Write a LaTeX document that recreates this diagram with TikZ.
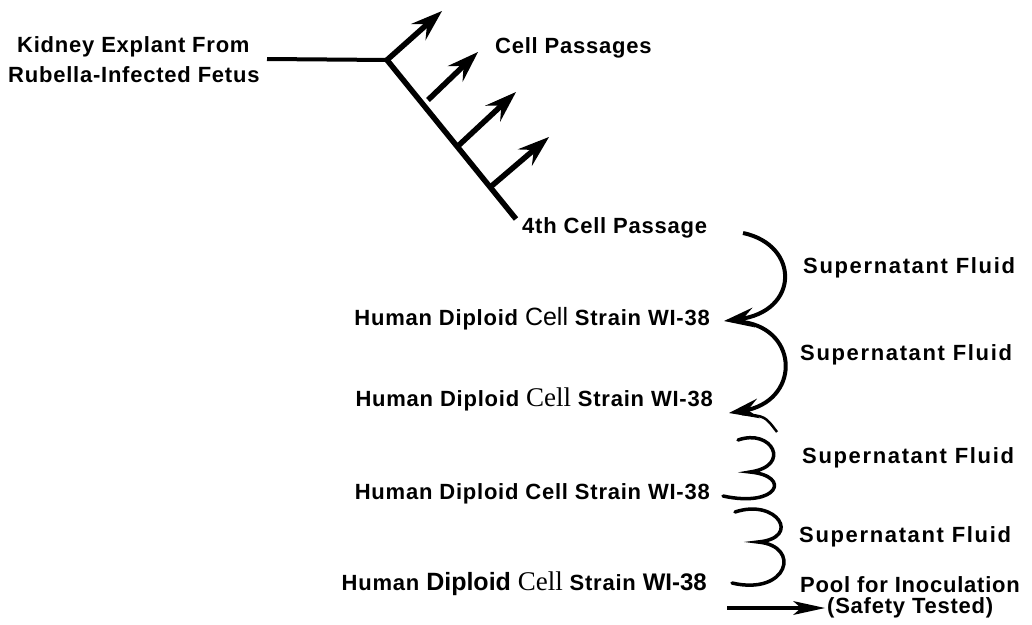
\documentclass[tikz,border=0pt]{standalone}
\usepackage{fontspec}
\setmainfont{Liberation Sans}
\newfontfamily\fa{Liberation Sans}[LetterSpace=3.5]
\newfontfamily\fb{Liberation Sans}[LetterSpace=7.5]
\newfontfamily\fn{Liberation Sans}
\newfontfamily\fs{Liberation Serif}
\usetikzlibrary{calc}
\tikzset{
  lbl/.style={inner sep=0pt, anchor=base west, font=\fa\bfseries\fontsize{22}{24}\selectfont},
  lblb/.style={inner sep=0pt, anchor=base west, font=\fb\bfseries\fontsize{22}{24}\selectfont},
  rowlbl/.style={inner sep=0pt, anchor=base east, font=\fa\bfseries\fontsize{22}{24}\selectfont},
  thickline/.style={line width=5.5pt, line cap=butt},
  passshaft/.style={line width=5.5pt, shorten >=16pt},
  curveshaft/.style={line width=4pt, shorten >=14pt},
  threecurve/.style={line width=3.5pt, line cap=round},
  headfill/.style={fill=black},
}
% arrowhead: #1 tip, #2 point it comes from, #3 length, #4 half width, #5 notch depth
\newcommand\myhead[5]{%
  \fill[headfill] (#1) -- ($(#1)!#3!(#2)!#4!90:(#1)$) -- ($(#1)!#5!(#2)$)
    -- ($(#1)!#3!(#2)!#4!-90:(#1)$) -- cycle;}
\begin{document}
\begin{tikzpicture}[x=1pt,y=-1pt]
\useasboundingbox (0,0) rectangle (1032,624);

% labels
\node[lbl] (kid1) at (17,52) {Kidney Explant From};
\node[lbl] (kid2) at (8,82) {Rubella-Infected Fetus};
\node[lbl] (cp) at (495,53) {Cell Passages};
\node[lbl] (p4) at (522,233) {4th Cell Passage};

\node[rowlbl] (r1) at (710,325) {Human Diploid {\fn\mdseries\fontsize{25}{26}\selectfont Cell} Strain WI-38};
\node[rowlbl] (r2) at (713,406) {Human Diploid {\fs\mdseries\fontsize{27}{28}\selectfont Cell} Strain WI-38};
\node[rowlbl] (r3) at (710,499) {Human Diploid Cell Strain WI-38};
\node[rowlbl] (r4) at (707,590) {Human {\fn\fontsize{25}{26}\selectfont Diploid} {\fs\mdseries\fontsize{27}{28}\selectfont Cell} Strain {\fn\fontsize{24}{26}\selectfont WI-38}};

\node[lblb] (s1) at (803,273) {Supernatant Fluid};
\node[lblb] (s2) at (800,360) {Supernatant Fluid};
\node[lblb] (s3) at (802,463) {Supernatant Fluid};
\node[lblb] (s4) at (799,542) {Supernatant Fluid};
\node[lbl] (pool) at (800,592) {Pool for Inoculation};
\node[lbl] (safe) at (827,613) {(Safety Tested)};

% tree
\coordinate (h0) at (267,59);
\coordinate (J) at (387,60);
\coordinate (E) at (516,219);
\coordinate (t1) at (442,11);
\coordinate (a2) at (428,100);
\coordinate (t2) at (478,52);
\coordinate (a3) at ($(J)!0.545!(E)$);
\coordinate (t3) at (516,92);
\coordinate (a4) at ($(J)!0.80!(E)$);
\coordinate (t4) at (549,137);

\draw[line width=4pt] (h0) -- (J);
\draw[thickline] (J) -- (E);
\draw[passshaft] (J) -- (t1);  \myhead{t1}{J}{32pt}{11pt}{20pt}
\draw[passshaft] (a2) -- (t2); \myhead{t2}{a2}{32pt}{11pt}{20pt}
\draw[passshaft] (a3) -- (t3); \myhead{t3}{a3}{32pt}{11pt}{20pt}
\draw[passshaft] (a4) -- (t4); \myhead{t4}{a4}{32pt}{11pt}{20pt}

% curved arrows
\coordinate (c1s) at (743,233);
\coordinate (c1e) at (724,321);
\coordinate (c1k) at (800,312);
\coordinate (c2s) at (743,322);
\coordinate (c2e) at (729,413);
\coordinate (c2k) at (800,402);
\draw[curveshaft] (c1s) .. controls (800,245) and (c1k) .. (c1e);
\myhead{c1e}{c1k}{30pt}{10pt}{19pt}
\draw[curveshaft] (c2s) .. controls (800,330) and (c2k) .. (c2e);
\myhead{c2e}{c2k}{30pt}{10pt}{19pt}

% small arc
\coordinate (sa1) at (742,414);
\coordinate (sa2) at (777,432);
\draw[line width=2.5pt] (sa1) .. controls (765,416) .. (sa2);

% "3"-shaped curves
\coordinate (k1a) at (738,440);
\coordinate (k1m) at (750,472);
\coordinate (k1b) at (723,496);
\draw[threecurve] (k1a) .. controls (772,428) and (792,466) .. (k1m)
                  .. controls (792,476) and (778,508) .. (k1b);
\coordinate (k2a) at (735,512);
\coordinate (k2m) at (758,542);
\coordinate (k2b) at (732,583);
\draw[threecurve] (k2a) .. controls (777,498) and (802,538) .. (k2m)
                  .. controls (802,546) and (788,596) .. (k2b);

% pool arrow
\coordinate (pa) at (727,608);
\coordinate (pt) at (825,608);
\draw[line width=4pt, shorten >=18pt] (pa) -- (pt);
\myhead{pt}{pa}{32pt}{7pt}{24pt}
\end{tikzpicture}
\end{document}
